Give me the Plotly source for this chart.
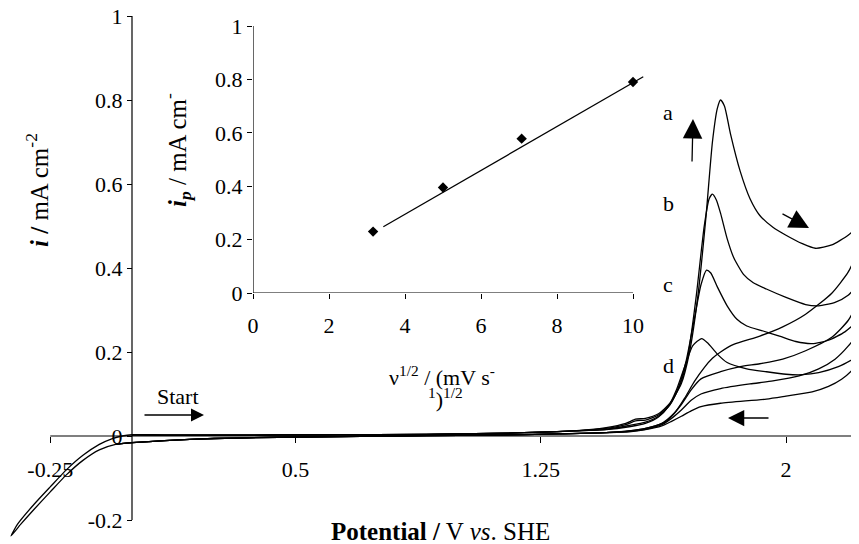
import plotly.graph_objects as go

# ---------------- data ----------------
# shared low-potential baseline, forward sweep (V vs SHE, mA cm-2)
base_fwd_E = [0.00, 0.10, 0.30, 0.60, 0.90, 1.10, 1.25, 1.35]
base_fwd_i = [0.003, 0.002, 0.002, 0.003, 0.004, 0.006, 0.009, 0.012]
# shared baseline, reverse sweep back to 0 V
base_rev_E = [1.45, 1.30, 1.10, 0.90, 0.70, 0.45, 0.25, 0.10, 0.00, -0.05]
base_rev_i = [0.008, 0.005, 0.002, 0.001, -0.001, -0.003, -0.006, -0.011, -0.016, -0.020]
# cathodic excursion and return to the start potential
cath_E = [-0.10, -0.15, -0.20, -0.25, -0.30, -0.34, -0.37,
          -0.35, -0.30, -0.25, -0.20, -0.15, -0.10, -0.06, -0.03, 0.00]
cath_i = [-0.033, -0.058, -0.092, -0.133, -0.175, -0.210, -0.238,
          -0.210, -0.163, -0.121, -0.080, -0.046, -0.020, -0.006, 0.000, 0.003]

# curve a (highest scan rate)
a_E = [1.45, 1.51, 1.54, 1.57, 1.61, 1.645, 1.68, 1.705, 1.73, 1.755, 1.775, 1.79, 1.80,
       1.812, 1.83, 1.86, 1.89, 1.92, 1.96, 2.00, 2.05, 2.09, 2.14, 2.19, 2.22, 2.25,
       2.235, 2.22, 2.19, 2.14, 2.06, 1.99, 1.92, 1.84, 1.80, 1.775, 1.75, 1.72, 1.69,
       1.66, 1.63, 1.58, 1.52]
a_i = [0.020, 0.030, 0.040, 0.042, 0.053, 0.078, 0.125, 0.200, 0.330, 0.520, 0.700, 0.780, 0.800,
       0.785, 0.720, 0.630, 0.565, 0.525, 0.497, 0.478, 0.458, 0.447, 0.455, 0.478, 0.500, 0.530,
       0.470, 0.440, 0.390, 0.340, 0.290, 0.260, 0.238, 0.218, 0.200, 0.185, 0.163, 0.130, 0.090,
       0.055, 0.033, 0.020, 0.012]
# curve b
b_E = [1.45, 1.51, 1.54, 1.57, 1.61, 1.645, 1.675, 1.70, 1.725, 1.75, 1.765, 1.775, 1.787,
       1.80, 1.82, 1.84, 1.87, 1.90, 1.94, 2.00, 2.06, 2.10, 2.15, 2.19, 2.22, 2.25,
       2.235, 2.22, 2.19, 2.14, 2.06, 1.99, 1.92, 1.86, 1.80, 1.74, 1.71, 1.68, 1.65,
       1.62, 1.57, 1.52]
b_i = [0.018, 0.027, 0.036, 0.038, 0.050, 0.075, 0.120, 0.190, 0.330, 0.500, 0.565, 0.576, 0.562,
       0.530, 0.470, 0.425, 0.385, 0.365, 0.350, 0.330, 0.313, 0.310, 0.318, 0.335, 0.360, 0.385,
       0.350, 0.320, 0.275, 0.235, 0.203, 0.183, 0.172, 0.165, 0.153, 0.136, 0.110, 0.075, 0.048,
       0.030, 0.018, 0.012]
# curve c
c_E = [1.45, 1.52, 1.57, 1.61, 1.645, 1.67, 1.695, 1.72, 1.74, 1.757, 1.77, 1.79, 1.82,
       1.85, 1.88, 1.93, 1.98, 2.03, 2.08, 2.13, 2.18, 2.22, 2.25,
       2.235, 2.22, 2.19, 2.15, 2.10, 2.04, 1.96, 1.89, 1.80, 1.74, 1.71, 1.68, 1.65, 1.62, 1.57, 1.52]
c_i = [0.016, 0.025, 0.033, 0.047, 0.074, 0.113, 0.180, 0.280, 0.360, 0.395, 0.388, 0.355, 0.310,
       0.278, 0.262, 0.250, 0.238, 0.225, 0.220, 0.228, 0.248, 0.275, 0.300,
       0.272, 0.245, 0.214, 0.183, 0.160, 0.143, 0.131, 0.124, 0.113, 0.100, 0.085, 0.062, 0.042, 0.027, 0.016, 0.011]
# curve d (lowest scan rate)
d_E = [1.45, 1.52, 1.57, 1.61, 1.64, 1.665, 1.69, 1.715, 1.742, 1.76, 1.79, 1.82, 1.88,
       1.94, 2.00, 2.05, 2.10, 2.16, 2.22, 2.25,
       2.235, 2.22, 2.20, 2.17, 2.13, 2.08, 2.00, 1.94, 1.80, 1.74, 1.71, 1.68, 1.65, 1.62, 1.57, 1.52]
d_i = [0.015, 0.022, 0.030, 0.045, 0.070, 0.110, 0.165, 0.215, 0.232, 0.222, 0.195, 0.175, 0.160,
       0.153, 0.147, 0.146, 0.151, 0.165, 0.190, 0.205,
       0.188, 0.174, 0.155, 0.135, 0.118, 0.105, 0.095, 0.088, 0.078, 0.070, 0.060, 0.047, 0.035, 0.024, 0.015, 0.010]

curve_labels = ["a", "b", "c", "d"]

# inset: peak current vs square root of scan rate
sqrt_scan = [3.16, 5.0, 7.07, 10.0]
peak_i = [0.23, 0.395, 0.578, 0.79]
trend_x = [3.43, 10.27]
trend_y = [0.248, 0.81]

main_xticks = [-0.25, 0.5, 1.25, 2]
main_xtext = ["-0.25", "0.5", "1.25", "2"]
main_yticks = [-0.2, 0, 0.2, 0.4, 0.6, 0.8, 1]
main_ytext = ["-0.2", "0", "0.2", "0.4", "0.6", "0.8", "1"]
inset_xticks = [0, 2, 4, 6, 8, 10]
inset_yticks = [0, 0.2, 0.4, 0.6, 0.8, 1]
inset_ytext = ["0", "0.2", "0.4", "0.6", "0.8", "1"]

# ---------------- layout geometry (pixels of the page) ----------------
PAGE_W, PAGE_H = 859, 544
OFF = 8                       # default body margin of the html page
W, H = PAGE_W - OFF, PAGE_H - OFF
FONT = "Liberation Serif, Times New Roman, serif"
x0_px, x_scale = 132.0, 327.0   # page pixel of E = 0, pixels per volt
y0_px, y_scale = 436.0, 420.0   # page pixel of i = 0, pixels per mA cm-2

def px(x):
    return (x - OFF) / W

def py(y):
    return 1 - (y - OFF) / H

fig = go.Figure()

line_style = dict(color="black", width=1.3, shape="spline", smoothing=0.6)
curves = [(a_E, a_i, True), (b_E, b_i, False), (c_E, c_i, False), (d_E, d_i, False)]
for E, I, with_cath in curves:
    xs = base_fwd_E + E + base_rev_E
    ys = base_fwd_i + I + base_rev_i
    if with_cath:
        xs = xs + cath_E
        ys = ys + cath_i
    fig.add_trace(go.Scatter(x=xs, y=ys, mode="lines", line=line_style,
                             xaxis="x", yaxis="y", showlegend=False, hoverinfo="skip"))

fig.add_trace(go.Scatter(x=trend_x, y=trend_y, mode="lines",
                         line=dict(color="black", width=1.3),
                         xaxis="x2", yaxis="y2", showlegend=False, hoverinfo="skip"))
fig.add_trace(go.Scatter(x=sqrt_scan, y=peak_i, mode="markers",
                         marker=dict(symbol="diamond", size=8, color="black"),
                         cliponaxis=False,
                         xaxis="x2", yaxis="y2", showlegend=False, hoverinfo="skip"))

tickfont = dict(family=FONT, size=22, color="black")

inset_left, inset_bottom, inset_top = 253.0, 293.0, 26.0
inset_xs = 38.0
inset_xmax = 10.4

common = dict(ticks="outside", tickcolor="black", tickwidth=1, showline=False,
              showgrid=False, zeroline=False, tickfont=tickfont, automargin=False,
              tickmode="array", ticklabeloverflow="allow")

xl = (OFF - x0_px) / x_scale
xr = (PAGE_W - x0_px) / x_scale
yb = (y0_px - PAGE_H) / y_scale
yt = (y0_px - OFF) / y_scale

fig.update_layout(
    width=W, height=H,
    margin=dict(l=0, r=0, t=0, b=0, pad=0, autoexpand=False),
    paper_bgcolor="white", plot_bgcolor="rgba(0,0,0,0)",
    font=dict(family=FONT, color="black"),
    xaxis=dict(domain=[0, 1], range=[xl, xr],
               anchor="free", position=py(y0_px),
               tickvals=main_xticks, ticktext=main_xtext,
               ticklen=6, ticklabelstandoff=8, **common),
    yaxis=dict(domain=[0, 1], range=[yb, yt],
               anchor="free", position=px(x0_px),
               tickvals=main_yticks, ticktext=main_ytext,
               ticklen=5, ticklabelstandoff=0, **common),
    xaxis2=dict(domain=[px(inset_left), px(inset_left + inset_xs * inset_xmax)],
                range=[0, inset_xmax], anchor="y2",
                tickvals=inset_xticks, ticktext=[str(v) for v in inset_xticks],
                ticklen=5, ticklabelstandoff=8, **common),
    yaxis2=dict(domain=[py(inset_bottom), py(inset_top)], range=[0, 1], anchor="x2",
                tickvals=inset_yticks, ticktext=inset_ytext,
                ticklen=5, ticklabelstandoff=0, **common),
)

axis_line = dict(color="black", width=1.2)
fig.add_shape(type="line", xref="x", yref="y", x0=-0.25, x1=xr, y0=0, y1=0, line=axis_line)
fig.add_shape(type="line", xref="x", yref="y", x0=0, x1=0, y0=-0.2, y1=1, line=axis_line)
fig.add_shape(type="line", xref="x2", yref="y2", x0=0, x1=10, y0=0, y1=0, line=axis_line)
fig.add_shape(type="line", xref="x2", yref="y2", x0=0, x1=0, y0=0, y1=1, line=axis_line)

def text(x, y, s, size=22, angle=0):
    fig.add_annotation(x=px(x), y=py(y), xref="paper", yref="paper", text=s,
                       showarrow=False, textangle=angle, xanchor="center", yanchor="middle",
                       font=dict(family=FONT, size=size, color="black"))

text(440, 531, "<b>Potential /</b> V <i>vs</i>. SHE", size=25)
text(37, 190, "<b><i>i</i> /</b> mA cm<sup>-2</sup>", size=25, angle=-90)
text(177, 150, "<b><i>i<sub>p</sub></i></b> / mA cm<sup>-</sup>", size=25, angle=-90)
text(442, 376, "ν<sup>1/2</sup> / (mV s<sup>-</sup>", size=22)
text(445, 398, "<sup>1</sup>)<sup>1/2</sup>", size=22)
text(178, 396, "Start", size=22)
for lab, yy in zip(curve_labels, [112, 203, 284, 365]):
    text(668, yy, lab, size=22)

def arrow(tip_x, tip_y, tail_x, tail_y, size):
    fig.add_annotation(x=px(tip_x), y=py(tip_y), xref="paper", yref="paper", text="",
                       showarrow=True, arrowhead=2, arrowsize=size, arrowwidth=1.3,
                       arrowcolor="black", ax=tail_x - tip_x, ay=tail_y - tip_y, standoff=0)

arrow(693, 119, 692, 163, 3.0)
arrow(809, 228, 781, 213, 3.0)
arrow(728, 418, 770, 418, 2.5)
arrow(204, 415, 143, 415, 2.0)

fig.write_html("out.html")
